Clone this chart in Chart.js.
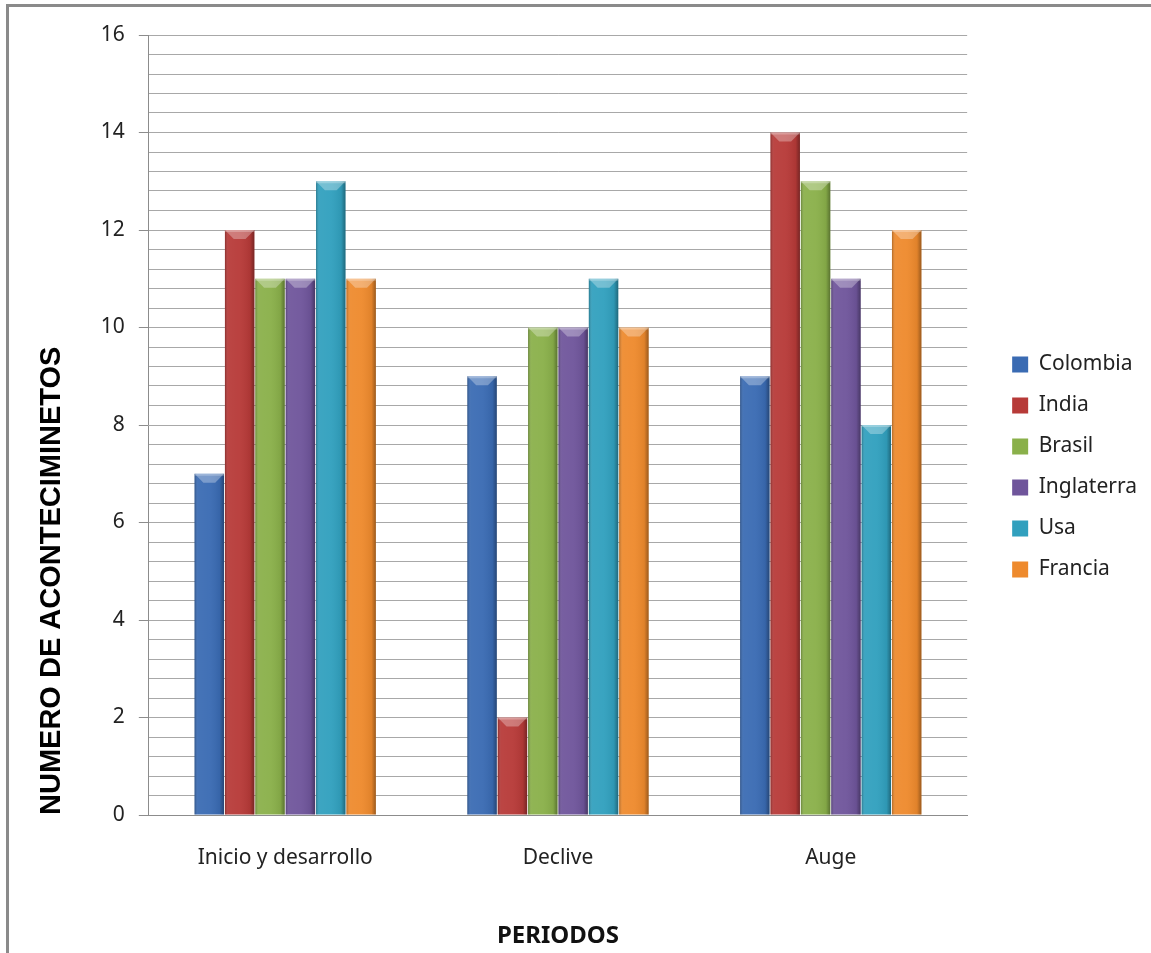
<!DOCTYPE html>
<html>
<head>
<meta charset="utf-8">
<script src="https://cdn.jsdelivr.net/npm/chart.js@4.4.1/dist/chart.umd.min.js"></script>
<style>
  html, body { margin: 0; padding: 0; background: #fff; }
  body { width: 1151px; height: 953px; overflow: hidden; position: relative; }
  .frame { position: absolute; left: 6px; top: 4px; width: 1200px; height: 1000px; border: 3px solid #8a8a8a; box-sizing: border-box; }
  #chart { position: absolute; left: 0; top: 0; }
</style>
</head>
<body>
<div class="frame"></div>
<canvas id="chart" width="1151" height="953"></canvas>
<script>
  // Periods and event counts per country
  const periods = ['Inicio y desarrollo', 'Declive', 'Auge'];
  const countries = ['Colombia', 'India', 'Brasil', 'Inglaterra', 'Usa', 'Francia'];
  const colombia = [7, 9, 9];
  const india = [12, 2, 14];
  const brasil = [11, 10, 13];
  const inglaterra = [11, 10, 11];
  const usa = [13, 11, 8];
  const francia = [11, 10, 12];
  const colors = ['#3a6bb3', '#b73a38', '#8ab04a', '#6f559b', '#31a0be', '#ee8a2d'];

  const yMin = 0, yMax = 16, yTickCount = 41;   // minor gridline every 0.4
  const yTitle = 'NUMERO DE ACONTECIMINETOS';
  const xTitle = 'PERIODOS';

  const series = [colombia, india, brasil, inglaterra, usa, francia];
  const FONT = '"Noto Sans", sans-serif';
  const isMajor = v => Math.abs(v - Math.round(v / 2) * 2) < 1e-9;

  // horizontal shading + bevelled top, to mimic the Excel 2007 bars
  const bevel = {
    id: 'bevel',
    afterDatasetsDraw(chart) {
      const ctx = chart.ctx;
      chart.data.datasets.forEach((ds, i) => {
        chart.getDatasetMeta(i).data.forEach(bar => {
          const p = bar.getProps(['x', 'y', 'base', 'width'], true);
          const l = p.x - p.width / 2, r = p.x + p.width / 2, h = p.base - p.y;
          if (h <= 0) return;
          ctx.save();
          const g = ctx.createLinearGradient(l, 0, r, 0);
          g.addColorStop(0, 'rgba(0,0,0,0.25)');
          g.addColorStop(0.12, 'rgba(255,255,255,0.06)');
          g.addColorStop(0.5, 'rgba(255,255,255,0.04)');
          g.addColorStop(0.85, 'rgba(0,0,0,0.06)');
          g.addColorStop(1, 'rgba(0,0,0,0.35)');
          ctx.fillStyle = g;
          ctx.fillRect(l, p.y, r - l, h);
          const b = Math.min(9, h / 2), k = Math.min(9, p.width * 0.3);
          ctx.fillStyle = 'rgba(255,255,255,0.3)';
          ctx.beginPath();
          ctx.moveTo(l, p.y); ctx.lineTo(r, p.y);
          ctx.lineTo(r - k, p.y + b); ctx.lineTo(l + k, p.y + b);
          ctx.closePath(); ctx.fill();
          ctx.fillStyle = 'rgba(255,255,255,0.25)';
          ctx.fillRect(l, p.y, r - l, 2);
          ctx.restore();
        });
      });
    }
  };

  // the Excel legend sits a little above the vertical centre
  const legendLift = {
    id: 'legendLift',
    beforeDraw(chart) {
      const lg = chart.legend;
      if (lg) { lg.top -= 26; lg.bottom -= 26; }
    }
  };

  new Chart(document.getElementById('chart'), {
    type: 'bar',
    data: {
      labels: periods,
      datasets: countries.map((name, i) => ({
        label: name,
        data: series[i],
        backgroundColor: colors[i],
        borderWidth: 0,
        categoryPercentage: 0.668,
        barPercentage: 0.97
      }))
    },
    options: {
      responsive: false,
      animation: false,
      devicePixelRatio: 1,
      layout: { padding: { top: 35, left: 35, right: 4, bottom: 2 } },
      plugins: {
        tooltip: { enabled: false },
        legend: {
          position: 'right',
          labels: {
            font: { family: FONT, size: 21 },
            color: '#222',
            boxWidth: 16,
            boxHeight: 16,
            padding: 20
          }
        }
      },
      scales: {
        x: {
          grid: { display: false, drawTicks: false },
          border: { display: true, color: '#8c8c8c' },
          ticks: { font: { family: FONT, size: 21 }, color: '#222', padding: 30 },
          title: { display: true, text: xTitle, font: { family: FONT, size: 24, weight: 'bold' }, color: '#111', padding: { top: 22, bottom: 0 } }
        },
        y: {
          min: yMin,
          max: yMax,
          grid: {
            color: '#a8a8a8',
            tickLength: 10,
            tickColor: c => (c.tick && isMajor(c.tick.value)) ? '#8c8c8c' : 'transparent'
          },
          border: { display: true, color: '#8c8c8c' },
          ticks: {
            count: yTickCount,
            autoSkip: false,
            padding: 14,
            font: { family: FONT, size: 21 },
            color: '#222',
            callback: v => isMajor(v) ? String(Math.round(v)) : ''
          },
          title: { display: true, text: yTitle, align: 'start', font: { family: '"Liberation Sans", Arial, sans-serif', size: 29, weight: 'bold' }, color: '#000', padding: { top: 0, bottom: 17 } }
        },
        spacer: {
          position: 'right',
          grid: { display: false, drawTicks: false },
          border: { display: false },
          ticks: { display: false },
          afterFit: s => { s.width = 25; }
        }
      }
    },
    plugins: [bevel, legendLift]
  });
</script>
</body>
</html>
